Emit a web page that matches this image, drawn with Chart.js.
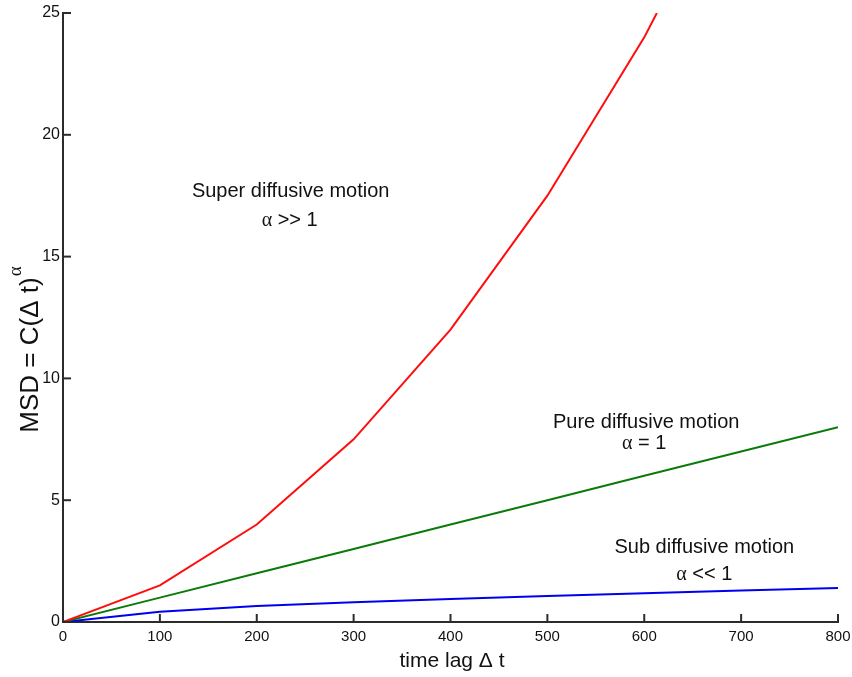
<!DOCTYPE html>
<html>
<head>
<meta charset="utf-8">
<script src="https://cdn.jsdelivr.net/npm/chart.js@4.4.1/dist/chart.umd.min.js"></script>
<style>
  html, body { margin: 0; padding: 0; background: #fff; }
  #wrap { width: 852px; height: 677px; }
</style>
</head>
<body>
<div id="wrap"><canvas id="msdChart" width="852" height="677"></canvas></div>
<script>
// time lags (x) and MSD values
const lags = [0, 100, 200, 300, 400, 500, 600, 700, 800];
const superLags = [0, 100, 200, 300, 400, 500, 600, 613];
const superMsd = [0, 1.5, 4, 7.5, 12, 17.5, 24, 25];
const pureMsd = [0, 1, 2, 3, 4, 5, 6, 7, 8];
const subMsd = [0, 0.42, 0.66, 0.81, 0.94, 1.07, 1.18, 1.29, 1.4];

const xTicks = [0, 100, 200, 300, 400, 500, 600, 700, 800];
const yTicks = [0, 5, 10, 15, 20, 25];

const sans = "'Liberation Sans', Arial, Helvetica, sans-serif";
const serif = "'Liberation Serif', 'Times New Roman', serif";
const axisColor = "#2b2b2b";

function toPoints(xs, ys) {
  return xs.map((x, i) => ({ x: x, y: ys[i] }));
}

// region labels, positioned in data coordinates (first run is the greek alpha)
const notes = [
  { x: 235, y: 17.45, runs: [["Super diffusive motion", sans]] },
  { x: 234, y: 16.26, runs: [["\u03b1", serif], [" >> 1", sans]] },
  { x: 602, y: 7.96, runs: [["Pure diffusive motion", sans]] },
  { x: 600, y: 7.1, runs: [["\u03b1", serif], [" = 1", sans]] },
  { x: 662, y: 2.83, runs: [["Sub diffusive motion", sans]] },
  { x: 662, y: 1.72, runs: [["\u03b1", serif], [" << 1", sans]] }
];

function drawRuns(ctx, runs, cx, by, size) {
  let total = 0;
  runs.forEach(r => { ctx.font = size + "px " + r[1]; total += ctx.measureText(r[0]).width; });
  let x = cx - total / 2;
  ctx.textAlign = "left";
  runs.forEach(r => {
    ctx.font = size + "px " + r[1];
    ctx.fillText(r[0], x, by);
    x += ctx.measureText(r[0]).width;
  });
}

const decorPlugin = {
  id: "decor",
  afterDraw(chart) {
    const ctx = chart.ctx;
    const xs = chart.scales.x, ys = chart.scales.y;
    const area = chart.chartArea;
    ctx.save();
    // inward tick marks
    ctx.strokeStyle = axisColor;
    ctx.lineWidth = 2;
    xTicks.forEach(v => {
      const px = xs.getPixelForValue(v);
      ctx.beginPath();
      ctx.moveTo(px, area.bottom);
      ctx.lineTo(px, area.bottom - 8);
      ctx.stroke();
    });
    yTicks.forEach(v => {
      const py = ys.getPixelForValue(v);
      ctx.beginPath();
      ctx.moveTo(area.left, py);
      ctx.lineTo(area.left + 8, py);
      ctx.stroke();
    });

    // annotations
    ctx.fillStyle = "#111";
    ctx.textBaseline = "alphabetic";
    notes.forEach(n => {
      drawRuns(ctx, n.runs, xs.getPixelForValue(n.x), ys.getPixelForValue(n.y), 20);
    });

    // x axis title
    drawRuns(ctx, [["time lag \u0394 t", sans]], 452, 667, 21);

    // y axis title with superscript alpha
    const main = "MSD = C(\u0394 t)";
    ctx.translate(38, 350);
    ctx.rotate(-Math.PI / 2);
    ctx.font = "26px " + sans;
    const w = ctx.measureText(main).width;
    ctx.font = "19px " + serif;
    const wa = ctx.measureText("\u03b1").width;
    const start = -(w + wa) / 2;
    ctx.textAlign = "left";
    ctx.font = "26px " + sans;
    ctx.fillText(main, start, 0);
    ctx.font = "19px " + serif;
    ctx.fillText("\u03b1", start + w + 1, -17);
    ctx.restore();
  }
};

new Chart(document.getElementById("msdChart"), {
  type: "line",
  data: {
    datasets: [
      {
        label: "Super diffusive",
        data: toPoints(superLags, superMsd),
        borderColor: "#ff0d0d",
        borderWidth: 2,
        pointRadius: 0,
        tension: 0
      },
      {
        label: "Pure diffusive",
        data: toPoints(lags, pureMsd),
        borderColor: "#0a7a0a",
        borderWidth: 2,
        pointRadius: 0,
        tension: 0
      },
      {
        label: "Sub diffusive",
        data: toPoints(lags, subMsd),
        borderColor: "#0000f0",
        borderWidth: 2,
        pointRadius: 0,
        tension: 0
      }
    ]
  },
  options: {
    responsive: false,
    animation: false,
    layout: { padding: { top: 13, right: 14, left: 0, bottom: 0 } },
    plugins: {
      legend: { display: false },
      tooltip: { enabled: false }
    },
    scales: {
      x: {
        type: "linear",
        min: 0,
        max: 800,
        afterBuildTicks: s => { s.ticks = xTicks.map(v => ({ value: v })); },
        afterFit: s => { s.height = 55; s.paddingLeft = 0; s.paddingRight = 0; },
        grid: { display: false, drawTicks: false },
        border: { display: true, color: axisColor, width: 2 },
        ticks: { color: "#111", font: { family: sans, size: 15 }, padding: 6, maxRotation: 0 }
      },
      y: {
        min: 0,
        max: 25,
        afterBuildTicks: s => { s.ticks = yTicks.map(v => ({ value: v })); },
        afterFit: s => { s.width = 63; s.paddingTop = 0; s.paddingBottom = 0; },
        grid: { display: false, drawTicks: false },
        border: { display: true, color: axisColor, width: 2 },
        ticks: { color: "#111", font: { family: sans, size: 16 }, padding: 3 }
      }
    }
  },
  plugins: [decorPlugin]
});
</script>
</body>
</html>
